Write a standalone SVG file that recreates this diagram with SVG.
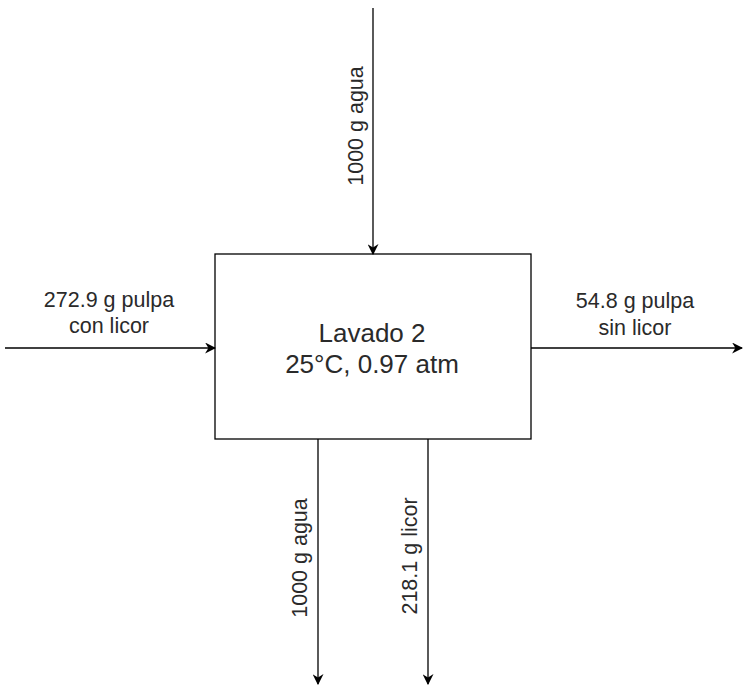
<svg xmlns="http://www.w3.org/2000/svg" width="748" height="689" viewBox="0 0 748 689">
<style>
.edge{stroke:#000;stroke-width:1.3;fill:none}
.lbl{font-family:"Liberation Sans",Arial,sans-serif;font-size:21.5px;fill:#2a2a2a;text-anchor:middle}
.big{font-family:"Liberation Sans",Arial,sans-serif;font-size:26px;fill:#2a2a2a;text-anchor:middle}
</style>
<defs>
<marker id="ah" viewBox="0 0 10 10" refX="9" refY="5" markerWidth="11" markerHeight="11" markerUnits="userSpaceOnUse" orient="auto">
<path d="M0,0 L10,5 L0,10 L3,5 Z" fill="#000"/>
</marker>
</defs>
<rect width="748" height="689" fill="#fff"/>
<g id="box">
<rect x="215" y="254" width="316" height="185" fill="#fff" stroke="#000" stroke-width="1.3"/>
<text class="big" x="372" y="342">Lavado 2</text>
<text class="big" x="372" y="373">25°C, 0.97 atm</text>
</g>
<g id="connectors">
<path class="edge" d="M373,8 L373,254" marker-end="url(#ah)"/>
<path class="edge" d="M5,348 L215,348" marker-end="url(#ah)"/>
<path class="edge" d="M531,348 L742,348" marker-end="url(#ah)"/>
<path class="edge" d="M318,439 L318,684" marker-end="url(#ah)"/>
<path class="edge" d="M428,439 L428,684" marker-end="url(#ah)"/>
</g>
<g id="labels">
<text class="lbl" transform="translate(363,126) rotate(-90)">1000 g agua</text>
<text class="lbl" x="109" y="307">272.9 g pulpa</text>
<text class="lbl" x="109" y="333">con licor</text>
<text class="lbl" x="635" y="308">54.8 g pulpa</text>
<text class="lbl" x="635" y="335">sin licor</text>
<text class="lbl" transform="translate(307,558) rotate(-90)">1000 g agua</text>
<text class="lbl" transform="translate(417,556) rotate(-90)">218.1 g licor</text>
</g>
</svg>
